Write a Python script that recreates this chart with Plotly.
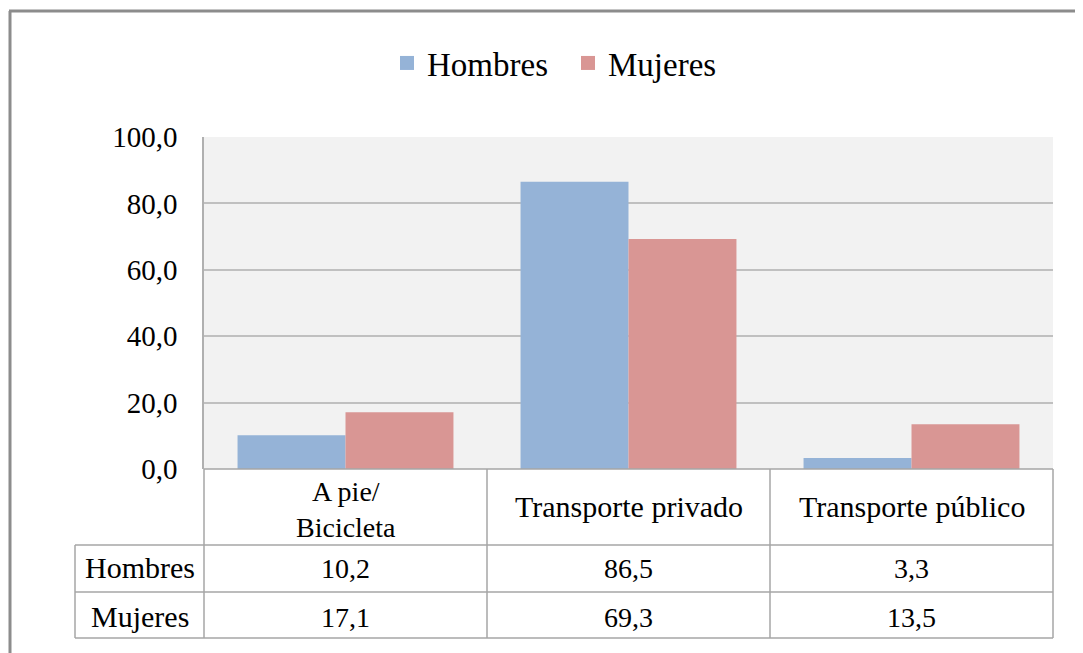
import plotly.graph_objects as go

categories = ["A pie/<br>Bicicleta", "Transporte privado", "Transporte público"]
series_names = ["Hombres", "Mujeres"]
hombres = [10.2, 86.5, 3.3]
mujeres = [17.1, 69.3, 13.5]
colors = ["#95B3D7", "#D99694"]

W, H = 1083, 653
OX, OY = 8, 8  # page body offset
def px(x):
    return (x - OX) / W
def py(y):
    return 1 - (y - OY) / H

# plot area in target pixels
L, R, T, B = 204, 1053, 137, 469
ROW1, ROW2, ROW3 = 545, 592, 638
TL = 75
FONT = "Liberation Serif"

fig = go.Figure()
for name, vals, c in zip(series_names, [hombres, mujeres], colors):
    fig.add_trace(go.Bar(x=categories, y=vals, name=name, showlegend=False,
                         marker=dict(color=c, line=dict(width=0))))
# legend entries (square markers)
for name, c in zip(series_names, colors):
    fig.add_trace(go.Scatter(x=[None], y=[None], mode="markers", name=name,
                             marker=dict(symbol="square", size=14, color=c)))

shapes = []
lc = "#A6A6A6"
def line(x0, y0, x1, y1, color=lc, width=1.5):
    shapes.append(dict(type="line", xref="paper", yref="paper",
                       x0=px(x0), y0=py(y0), x1=px(x1), y1=py(y1),
                       line=dict(color=color, width=width)))

col_edges = [L + (R - L) * i / 3 for i in range(4)]
for xe in col_edges:
    line(xe, B, xe, ROW3)
line(TL, ROW1, TL, ROW3)
for ye in [ROW1, ROW2, ROW3]:
    line(TL, ye, R, ye)
line(L, B, R, B)
# outer chart border (top & left)
line(9, 11, W + 20, 11, color="#8C8C8C", width=3)
line(10, 11, 10, H + 20, color="#8C8C8C", width=3)

annotations = []
WORD_SIZE, NUM_SIZE = 30, 28
def text(x, y, s, size):
    annotations.append(dict(xref="paper", yref="paper", x=px(x), y=py(y), text=s,
                            showarrow=False, xanchor="center", yanchor="middle",
                            font=dict(family=FONT, size=size, color="#000000")))

centers = [(col_edges[i] + col_edges[i + 1]) / 2 for i in range(3)]
head_mid = (B + ROW1) / 2
for cx, cat in zip(centers, categories):
    if "<br>" in cat:
        text(cx, head_mid + 3, cat, 28)
    else:
        text(cx, head_mid - 1, cat, WORD_SIZE)
rows = [(series_names[0], hombres, (ROW1 + ROW2) / 2 - 1.5),
        (series_names[1], mujeres, (ROW2 + ROW3) / 2 + 1)]
for name, vals, cy in rows:
    text((TL + L) / 2, cy, name, WORD_SIZE)
    for cx, v in zip(centers, vals):
        text(cx, cy + 1, f"{v:.1f}".replace(".", ","), NUM_SIZE)

fig.update_layout(
    width=W, height=H,
    margin=dict(l=0, r=0, t=0, b=0, autoexpand=False),
    paper_bgcolor="white",
    plot_bgcolor="#F2F2F2",
    separators=",.",
    barmode="group",
    bargap=0.237,
    bargroupgap=0,
    font=dict(family=FONT, color="#000000"),
    showlegend=True,
    legend=dict(orientation="h", x=px(387), xanchor="left", y=py(63), yanchor="middle",
                font=dict(family=FONT, size=33), entrywidth=136, entrywidthmode="pixels",
                bgcolor="rgba(0,0,0,0)"),
    xaxis=dict(domain=[px(L), px(R)], showticklabels=False, showgrid=False,
               zeroline=False, showline=False, ticks="", automargin=False),
    yaxis=dict(domain=[py(B), py(T)], range=[0, 100], dtick=20, tickformat=".1f",
               showgrid=True, gridcolor="#C0C0C0", gridwidth=1.5, zeroline=False,
               showline=True, linecolor="#B0B0B0", linewidth=1.5,
               ticks="", ticklabelstandoff=19, automargin=False,
               tickfont=dict(family=FONT, size=29, color="#000000")),
    shapes=shapes,
    annotations=annotations,
)

fig.write_html("out.html")
